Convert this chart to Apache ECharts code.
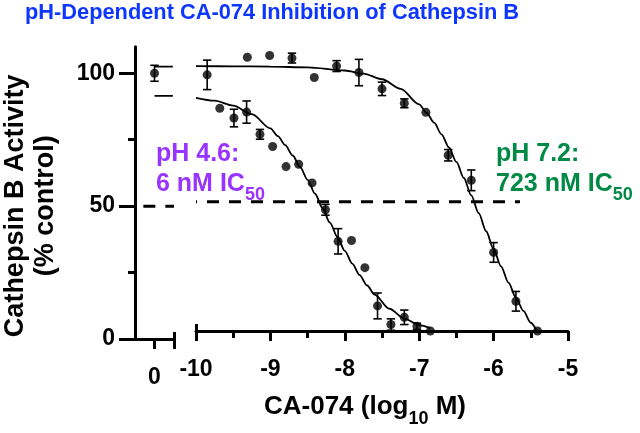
<!DOCTYPE html>
<html><head><meta charset="utf-8">
<script src="https://cdn.jsdelivr.net/npm/echarts@6/dist/echarts.min.js"></script>
<style>html,body{margin:0;padding:0;background:#fff}#c{width:640px;height:433px}</style>
</head><body><div id="c"></div>
<script>
const FONT = '"Liberation Sans", Arial, Helvetica, sans-serif';
const titleText = 'pH-Dependent CA-074 Inhibition of Cathepsin B';
const yTitleLines = ['Cathepsin B Activity', '(% control)'];
const yMajorTicks = [0, 50, 100];
const yMinorTicks = [25, 75];
const controlTicks = [0];
const ctrlX = [0], ctrlY = [100], ctrlErr = [3];

const ph72X = [-9.85,-9.31,-9.01,-8.71,-8.41,-8.11,-7.81,-7.50,-7.20,-6.91,-6.61,-6.30,-6.00,-5.70,-5.41];
const ph72Y = [99.1,105.9,106.6,105.6,98.1,102.5,100.0,93.7,88.1,84.6,68.0,58.3,30.4,11.5,0];
const ph72Err = [5.7,0,0,1.9,0,2.1,5.1,2.6,1.7,0,2.2,4.0,3.8,3.8,0];

const ph46X = [-9.68,-9.49,-9.32,-9.14,-8.97,-8.79,-8.62,-8.44,-8.26,-8.09,-7.91,-7.73,-7.56,-7.38,-7.20,-7.03,-6.85];
const ph46Y = [86.2,82.4,84.7,76.1,71.4,63.6,64.5,57.3,46.9,34.7,35.0,24.5,9.7,2.5,5.3,1.8,0];
const ph46Err = [0,3.4,4.3,1.9,0,0,0,0,2.1,4.9,0,0,5.0,2.2,2.8,1.2,0];

const ph72CurveX = [-10,-9.5,-9,-8.5,-8,-7.75,-7.5,-7.25,-7,-6.9,-6.8,-6.7,-6.6,-6.5,-6.4,-6.3,-6.2,-6.1,-6,-5.9,-5.8,-5.7,-5.6,-5.5,-5.42];
const ph72CurveY = [102.5,102.4,102.3,102.0,100.8,99.6,97.4,93.7,87.7,84.4,80.6,76.1,71.0,65.4,59.2,52.5,45.6,38.6,31.7,25.0,18.7,12.9,7.8,3.2,0];
const ph46CurveX = [-10,-9.75,-9.5,-9.25,-9,-8.9,-8.8,-8.7,-8.6,-8.5,-8.4,-8.3,-8.2,-8.1,-8,-7.9,-7.8,-7.7,-7.6,-7.4,-7.2,-7,-6.85];
const ph46CurveY = [90.2,89.1,87.2,83.9,78.4,75.4,71.9,67.9,63.4,58.5,53.1,47.6,41.9,36.4,31.0,26.1,21.6,17.6,14.1,8.6,4.8,2.3,1.1];

const plateauX = [0, 0.47];
const ph72Plateau = [102.5, 102.5];
const ph46Plateau = [91.5, 91.5];

// 50 % reference line: a piece over the control segment and a piece over the log segment
const refLeftX = [-0.286, 0.5];
const refMainX = [-10, -5.645];
const refY = [50, 50];

const ph46Label = ['pH 4.6:', '6 nM IC', '50'];
const ph72Label = ['pH 7.2:', '723 nM IC', '50'];

const BLACK = '#000';
const zip = (a, b) => a.map((v, i) => [v, b[i]]);

function errSeries(xs, ys, es, xi, yi) {
  return {
    type: 'custom', xAxisIndex: xi, yAxisIndex: yi, silent: true, z: 4,
    encode: { x: 0, y: 1 },
    data: xs.map((x, i) => [x, ys[i], es[i]]).filter(d => d[2] > 0),
    renderItem(params, api) {
      const x = api.value(0), y = api.value(1), e = api.value(2);
      const hi = api.coord([x, y + e]), lo = api.coord([x, y - e]);
      const w = 4.2, st = { stroke: BLACK, lineWidth: 1.6 };
      return { type: 'group', children: [
        { type: 'line', shape: { x1: hi[0], y1: hi[1], x2: lo[0], y2: lo[1] }, style: st },
        { type: 'line', shape: { x1: hi[0] - w, y1: hi[1], x2: hi[0] + w, y2: hi[1] }, style: st },
        { type: 'line', shape: { x1: lo[0] - w, y1: lo[1], x2: lo[0] + w, y2: lo[1] }, style: st }
      ]};
    }
  };
}
function dots(xs, ys, xi, yi) {
  return { type: 'scatter', xAxisIndex: xi, yAxisIndex: yi, data: zip(xs, ys),
    symbol: 'circle', symbolSize: 9, itemStyle: { color: BLACK }, z: 5, silent: true };
}
function curve(xs, ys, xi, yi) {
  return { type: 'line', xAxisIndex: xi, yAxisIndex: yi, data: zip(xs, ys), showSymbol: false,
    smooth: 0.3, smoothMonotone: 'x', lineStyle: { color: BLACK, width: 1.8 }, z: 3, silent: true };
}
function dashed(xs, ys, xi, yi, offset) {
  return { type: 'line', xAxisIndex: xi, yAxisIndex: yi, data: zip(xs, ys), showSymbol: false,
    lineStyle: { color: BLACK, width: 3, type: [12, 10], dashOffset: offset }, z: 2, silent: true };
}

const labelFont = { fontFamily: FONT, fontSize: 23, fontWeight: 'bold', color: BLACK };
const axLine = { show: true, lineStyle: { color: BLACK, width: 3 } };

const option = {
  animation: false,
  backgroundColor: '#fff',
  title: { text: titleText, left: 25, top: 2, padding: 0,
    textStyle: { fontFamily: FONT, fontSize: 21.8, fontWeight: 'bold', color: '#0d36ff' } },
  grid: [
    { left: 132, top: 46.7, width: 42, height: 292.3 },
    { left: 196, top: 46.7, width: 372, height: 292.3 }
  ],
  xAxis: [
    { type: 'value', gridIndex: 0, min: -0.5, max: 0.5, position: 'bottom',
      axisLine: { ...axLine, onZero: false },
      axisTick: { show: true, customValues: [0, 0.5], length: 10, lineStyle: { color: BLACK, width: 3 } },
      axisLabel: { show: true, customValues: controlTicks, margin: 27, ...labelFont },
      splitLine: { show: false } },
    { type: 'value', gridIndex: 0, min: -0.5, max: 0.5, position: 'bottom',
      axisLine: { show: false, onZero: false },
      axisTick: { show: true, inside: true, customValues: [0.5], length: 7, lineStyle: { color: BLACK, width: 3 } },
      axisLabel: { show: false }, splitLine: { show: false } },
    { type: 'value', gridIndex: 1, min: -10, max: -5, interval: 1, position: 'bottom',
      axisLine: { ...axLine, onZero: false },
      axisTick: { show: true, length: 10, lineStyle: { color: BLACK, width: 3 } },
      minorTick: { show: true, splitNumber: 2, length: 7, lineStyle: { color: BLACK, width: 3 } },
      axisLabel: { margin: 27, ...labelFont },
      splitLine: { show: false },
      name: '{b|CA-074 (log}{s|10}{b| M)}', nameLocation: 'middle', nameGap: 61,
      nameTextStyle: { padding: [0, 34, 0, 0], rich: {
        b: { fontFamily: FONT, fontSize: 26, fontWeight: 'bold', color: BLACK, lineHeight: 30 },
        s: { fontFamily: FONT, fontSize: 18, fontWeight: 'bold', color: BLACK, lineHeight: 20, verticalAlign: 'bottom', padding: [0, 0, -6, 0] }
      } } },
    { type: 'value', gridIndex: 1, min: -10, max: -5, position: 'bottom',
      axisLine: { show: false, onZero: false },
      axisTick: { show: true, inside: true, customValues: [-10], length: 7, lineStyle: { color: BLACK, width: 3 } },
      axisLabel: { show: false }, splitLine: { show: false } }
  ],
  yAxis: [
    { type: 'value', gridIndex: 0, min: 0, max: 110, position: 'left',
      axisLine: { ...axLine, onZero: false },
      axisTick: { show: true, customValues: yMajorTicks, length: 16, lineStyle: { color: BLACK, width: 3 } },
      axisLabel: { show: true, customValues: yMajorTicks, margin: 20, ...labelFont },
      splitLine: { show: false },
      name: yTitleLines.join('\n'), nameLocation: 'middle', nameRotate: 90, nameGap: 74,
      nameTextStyle: { fontFamily: FONT, fontSize: 27, fontWeight: 'bold', color: BLACK, lineHeight: 30, padding: [0, 26, 0, 0] } },
    { type: 'value', gridIndex: 0, min: 0, max: 110, position: 'left',
      axisLine: { show: false, onZero: false },
      axisTick: { show: true, customValues: yMinorTicks, length: 7, lineStyle: { color: BLACK, width: 3 } },
      axisLabel: { show: false }, splitLine: { show: false } },
    { type: 'value', gridIndex: 1, min: 0, max: 110, show: false, splitLine: { show: false } }
  ],
  graphic: [
    { type: 'text', left: 156, top: 142, z: 10, style: {
      text: `{a|${ph46Label[0]}}\n{a|${ph46Label[1]}}{s|${ph46Label[2]}}`,
      rich: { a: { fontFamily: FONT, fontSize: 25, fontWeight: 'bold', fill: '#9933ff', lineHeight: 30 },
              s: { fontFamily: FONT, fontSize: 18, fontWeight: 'bold', fill: '#9933ff', lineHeight: 30, verticalAlign: 'bottom', padding: [0,0,-5,0] } } } },
    { type: 'text', left: 496, top: 142, z: 10, style: {
      text: `{a|${ph72Label[0]}}\n{a|${ph72Label[1]}}{s|${ph72Label[2]}}`,
      rich: { a: { fontFamily: FONT, fontSize: 25, fontWeight: 'bold', fill: '#008a45', lineHeight: 30 },
              s: { fontFamily: FONT, fontSize: 18, fontWeight: 'bold', fill: '#008a45', lineHeight: 30, verticalAlign: 'bottom', padding: [0,0,-5,0] } } } }
  ],
  series: [
    curve(plateauX, ph72Plateau, 0, 0),
    curve(plateauX, ph46Plateau, 0, 0),
    errSeries(ctrlX, ctrlY, ctrlErr, 0, 0),
    dots(ctrlX, ctrlY, 0, 0),
    dashed(refLeftX, refY, 0, 0, 0),
    dashed(refMainX, refY, 2, 2, 11),
    curve(ph72CurveX, ph72CurveY, 2, 2),
    curve(ph46CurveX, ph46CurveY, 2, 2),
    errSeries(ph72X, ph72Y, ph72Err, 2, 2),
    errSeries(ph46X, ph46Y, ph46Err, 2, 2),
    dots(ph72X, ph72Y, 2, 2),
    dots(ph46X, ph46Y, 2, 2)
  ]
};
const chart = echarts.init(document.getElementById('c'), null, { renderer: 'canvas' });
chart.setOption(option);
</script></body></html>
